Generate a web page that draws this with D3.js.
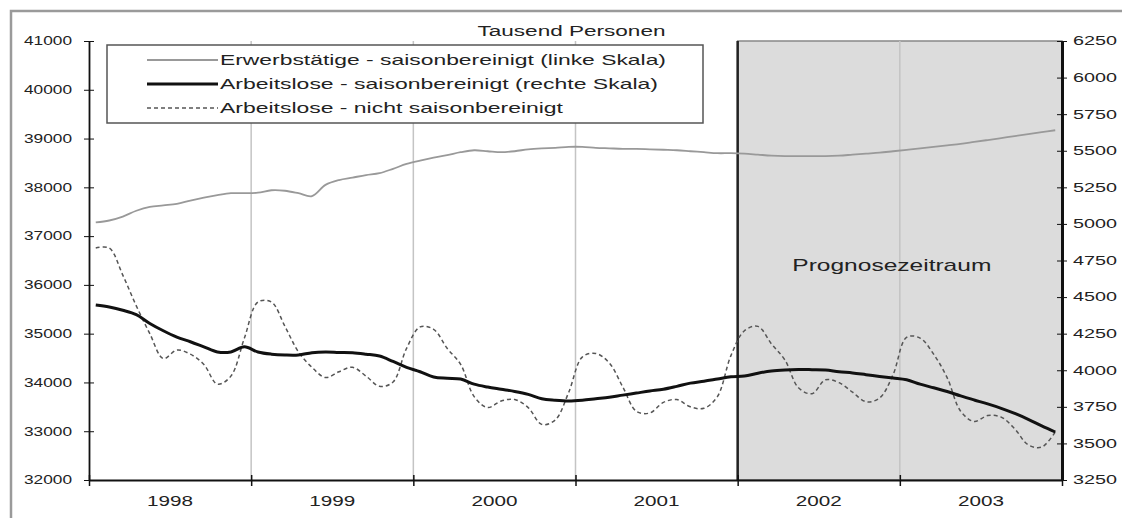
<!DOCTYPE html>
<html>
<head>
<meta charset="utf-8">
<script src="https://cdn.jsdelivr.net/npm/d3@7"></script>
<style>
  body { margin: 0; background: #fff; }
  text { font-family: "Liberation Sans", Arial, sans-serif; fill: #222; }
</style>
</head>
<body>
<script>
// chart data (monthly, Jan 1998 - Dec 2003)
var years = ["1998", "1999", "2000", "2001", "2002", "2003"];

// Erwerbstätige - saisonbereinigt (linke Skala)
var erwerbstaetige = [
  37280, 37320, 37400, 37520, 37600, 37630, 37660, 37730, 37790, 37840, 37880, 37880,
  37890, 37940, 37930, 37880, 37820, 38050, 38150, 38200, 38250, 38290, 38380, 38480,
  38550, 38610, 38660, 38720, 38760, 38740, 38720, 38740, 38780, 38800, 38810, 38830,
  38830, 38810, 38800, 38790, 38790, 38780, 38770, 38760, 38740, 38720, 38700, 38700,
  38690, 38670, 38650, 38640, 38640, 38640, 38640, 38650, 38670, 38690, 38710, 38740,
  38770, 38800, 38830, 38860, 38890, 38930, 38970, 39010, 39050, 39090, 39130, 39170
];

// Arbeitslose - saisonbereinigt (rechte Skala)
var alSaison = [
  4446, 4432, 4410, 4380, 4320, 4270, 4227, 4195, 4160, 4125, 4125, 4160,
  4125, 4110, 4104, 4104, 4120, 4125, 4122, 4120, 4110, 4097, 4060, 4020,
  3990, 3954, 3945, 3940, 3905, 3885, 3870, 3855, 3835, 3805, 3795, 3790,
  3795, 3805, 3815, 3830, 3844, 3858, 3870, 3890, 3912, 3925, 3940, 3955,
  3960, 3980, 3995, 4002, 4005, 4004, 4002, 3990, 3982, 3970, 3958, 3947,
  3935, 3905, 3880, 3855, 3825, 3797, 3770, 3740, 3705, 3665, 3620, 3578
];

// Arbeitslose - nicht saisonbereinigt (rechte Skala)
var alNichtSaison = [
  4835, 4835, 4650, 4440, 4250, 4080, 4138, 4110, 4040, 3905, 3960, 4220,
  4466, 4466, 4300, 4125, 4020, 3950, 3990, 4020, 3960, 3890, 3920, 4150,
  4296, 4280, 4150, 4040, 3820, 3745, 3790, 3800, 3745, 3630, 3660, 3850,
  4090, 4115, 4050, 3886, 3720, 3708, 3780, 3800, 3750, 3740, 3820, 4100,
  4270, 4300, 4180, 4070, 3880, 3840, 3935, 3915, 3850, 3785, 3810, 3970,
  4225, 4220, 4110, 3950, 3720, 3650, 3690, 3680, 3600, 3490, 3475, 3578
];

var leftTicks = [32000, 33000, 34000, 35000, 36000, 37000, 38000, 39000, 40000, 41000];
var rightTicks = [3250, 3500, 3750, 4000, 4250, 4500, 4750, 5000, 5250, 5500, 5750, 6000, 6250];

var legendLabels = [
  "Erwerbstätige - saisonbereinigt (linke Skala)",
  "Arbeitslose - saisonbereinigt (rechte Skala)",
  "Arbeitslose - nicht saisonbereinigt"
];
var titleText = "Tausend Personen";
var forecastText = "Prognosezeitraum";
var forecastStart = 48; // month index where the forecast starts (Jan 2002)

var svgWidth = 1122;
var svgHeight = 518;

var margin = { top: 41, right: 60, bottom: 38, left: 89 };
var width = 1062 - margin.left;
var height = 480 - margin.top;

var svg = d3.select("body")
  .append("svg")
  .attr("width", svgWidth)
  .attr("height", svgHeight);

// outer frame
svg.append("rect")
  .attr("x", 11).attr("y", 11)
  .attr("width", 1120).attr("height", 520)
  .attr("fill", "none")
  .attr("stroke", "#9a9a9a")
  .attr("stroke-width", 2.5);

var chartGroup = svg.append("g")
  .attr("transform", `translate(${margin.left}, ${margin.top})`);

// scales
var xScale = d3.scaleLinear().domain([0, 72]).range([0, width]);
var yLeft = d3.scaleLinear().domain([32000, 41000]).range([height, 0]);
var yRight = d3.scaleLinear().domain([3250, 6250]).range([height, 0]);

// forecast shading
chartGroup.append("rect")
  .attr("x", xScale(forecastStart))
  .attr("y", 0)
  .attr("width", xScale(72) - xScale(forecastStart))
  .attr("height", height)
  .attr("fill", "#dcdcdc")
  .attr("stroke", "#888")
  .attr("stroke-width", 1.5);

chartGroup.append("line")
  .attr("x1", xScale(forecastStart)).attr("x2", xScale(forecastStart))
  .attr("y1", 0).attr("y2", height)
  .attr("stroke", "#222")
  .attr("stroke-width", 2.5);

// vertical year lines
chartGroup.selectAll(".yearline")
  .data([12, 24, 36, 60])
  .enter()
  .append("line")
  .attr("class", "yearline")
  .attr("x1", d => xScale(d)).attr("x2", d => xScale(d))
  .attr("y1", 0).attr("y2", height)
  .attr("stroke", "#c4c4c4")
  .attr("stroke-width", 1.5);

chartGroup.append("text")
  .attr("x", (xScale(forecastStart) + xScale(72)) / 2 - 8)
  .attr("y", 230)
  .attr("text-anchor", "middle")
  .attr("font-size", "17px")
  .attr("textLength", 199)
  .attr("lengthAdjust", "spacingAndGlyphs")
  .attr("fill", "#333")
  .text(forecastText);

// lines
var lineLeft = d3.line()
  .x((d, i) => xScale(i + 0.5))
  .y(d => yLeft(d))
  .curve(d3.curveCatmullRom.alpha(0.5));

var lineRight = d3.line()
  .x((d, i) => xScale(i + 0.5))
  .y(d => yRight(d))
  .curve(d3.curveCatmullRom.alpha(0.5));

chartGroup.append("path")
  .datum(erwerbstaetige)
  .attr("d", lineLeft)
  .attr("fill", "none")
  .attr("stroke", "#999")
  .attr("stroke-width", 1.8);

chartGroup.append("path")
  .datum(alNichtSaison)
  .attr("d", lineRight)
  .attr("fill", "none")
  .attr("stroke", "#555")
  .attr("stroke-width", 1.5)
  .attr("stroke-dasharray", "4,3");

chartGroup.append("path")
  .datum(alSaison)
  .attr("d", lineRight)
  .attr("fill", "none")
  .attr("stroke", "#111")
  .attr("stroke-width", 3);

// axes
var leftAxis = d3.axisLeft(yLeft).tickValues(leftTicks)
  .tickFormat(d3.format("d")).tickSizeOuter(0);
var rightAxis = d3.axisRight(yRight).tickValues(rightTicks)
  .tickFormat(d3.format("d")).tickSizeOuter(0);
var bottomAxis = d3.axisBottom(xScale).tickValues(d3.range(0, 73, 12))
  .tickFormat("").tickSizeOuter(0);

var gLeft = chartGroup.append("g").call(leftAxis);
gLeft.selectAll(".tick line").attr("x1", -5).attr("x2", 5).attr("stroke", "#111");
gLeft.selectAll(".tick text")
  .attr("x", -17)
  .attr("font-size", "12px")
  .attr("font-family", null)
  .attr("textLength", 48)
  .attr("lengthAdjust", "spacingAndGlyphs")
  .attr("fill", "#333");
gLeft.select(".domain").attr("stroke", "#111").attr("stroke-width", 1.8);

var gRight = chartGroup.append("g")
  .attr("transform", `translate(${width}, 0)`)
  .call(rightAxis);
gRight.selectAll(".tick line").attr("x1", -5).attr("x2", 5).attr("stroke", "#111");
gRight.selectAll(".tick text")
  .attr("x", 11)
  .attr("font-size", "12px")
  .attr("font-family", null)
  .attr("textLength", 44)
  .attr("lengthAdjust", "spacingAndGlyphs")
  .attr("fill", "#333");
gRight.select(".domain").attr("stroke", "#111").attr("stroke-width", 3);

var gBottom = chartGroup.append("g")
  .attr("transform", `translate(0, ${height})`)
  .call(bottomAxis);
gBottom.selectAll(".tick line").attr("y1", -5).attr("y2", 6).attr("stroke", "#111").attr("stroke-width", 1.5);
gBottom.select(".domain").attr("stroke", "#111").attr("stroke-width", 2);

chartGroup.selectAll(".yearlabel")
  .data(years)
  .enter()
  .append("text")
  .attr("class", "yearlabel")
  .attr("x", (d, i) => xScale(i * 12 + 6))
  .attr("y", height + 26)
  .attr("text-anchor", "middle")
  .attr("font-size", "14px")
  .attr("textLength", 46)
  .attr("lengthAdjust", "spacingAndGlyphs")
  .attr("fill", "#333")
  .text(d => d);

// title
chartGroup.append("text")
  .attr("x", width / 2 - 4)
  .attr("y", -5)
  .attr("text-anchor", "middle")
  .attr("font-size", "14px")
  .attr("textLength", 188)
  .attr("lengthAdjust", "spacingAndGlyphs")
  .attr("fill", "#333")
  .text(titleText);

// legend
var legend = svg.append("g").attr("transform", "translate(107, 45)");
legend.append("rect")
  .attr("width", 596).attr("height", 78)
  .attr("fill", "#fff")
  .attr("stroke", "#555")
  .attr("stroke-width", 1.5);

var legendStyles = [
  { stroke: "#999", width: 1.8, dash: null },
  { stroke: "#111", width: 3, dash: null },
  { stroke: "#555", width: 1.5, dash: "4,3" }
];
var legendLengths = [446, 438, 343];

legendLabels.forEach(function(label, i) {
  var y = 15 + i * 24;
  legend.append("line")
    .attr("x1", 40).attr("x2", 111)
    .attr("y1", y).attr("y2", y)
    .attr("stroke", legendStyles[i].stroke)
    .attr("stroke-width", legendStyles[i].width)
    .attr("stroke-dasharray", legendStyles[i].dash);
  legend.append("text")
    .attr("x", 113)
    .attr("y", y + 5)
    .attr("font-size", "14.5px")
    .attr("textLength", legendLengths[i])
    .attr("lengthAdjust", "spacingAndGlyphs")
    .attr("fill", "#333")
    .text(label);
});
</script>
</body>
</html>
